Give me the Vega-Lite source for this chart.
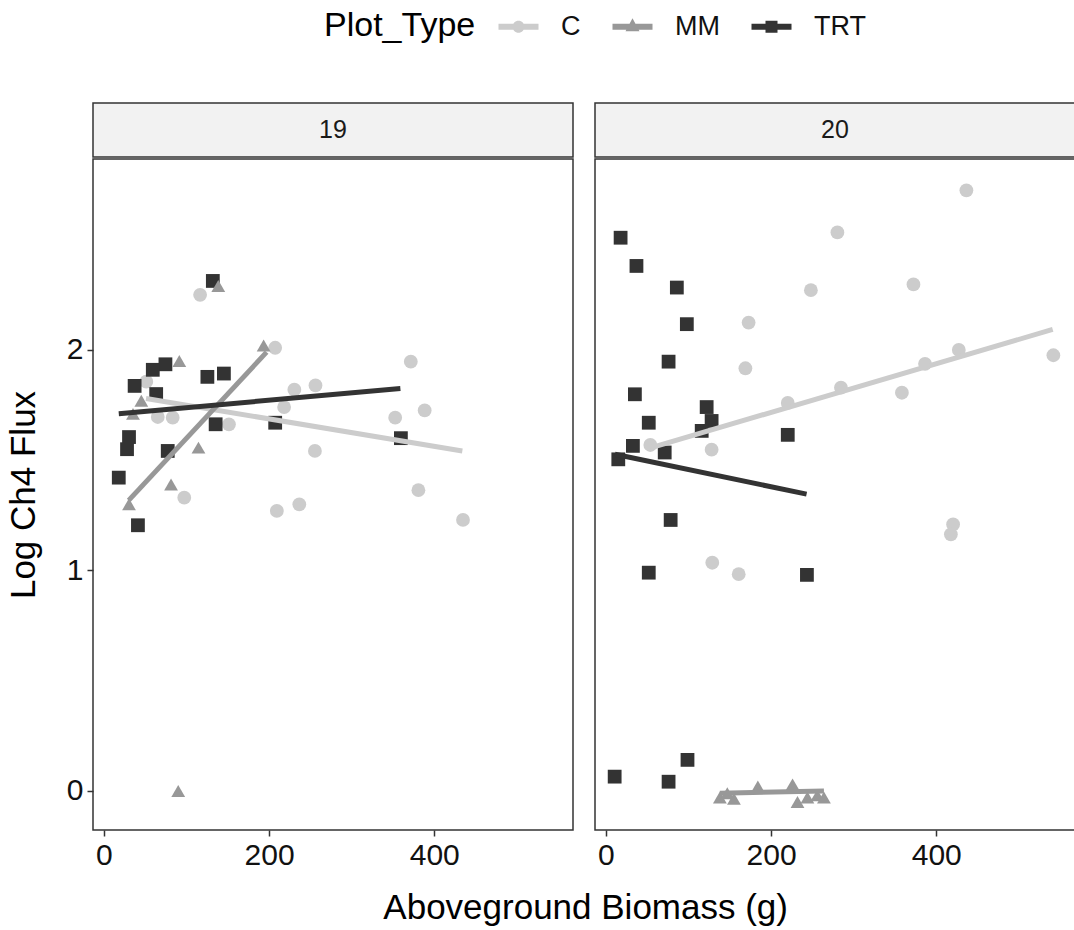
{
  "$schema": "https://vega.github.io/schema/vega-lite/v6.json",
  "padding": {"left": 5, "top": 13, "right": 0, "bottom": 0},
  "background": "white",
  "title": {"text": "Aboveground Biomass (g)", "orient": "bottom", "anchor": "middle", "fontSize": 35, "fontWeight": "normal", "color": "#000000", "offset": 20, "dx": 45},
  "datasets": {
    "points": [
      {"Year": "19", "Plot_Type": "C", "Biomass": 116.5, "Flux": 2.25},
      {"Year": "19", "Plot_Type": "C", "Biomass": 207.4, "Flux": 2.01},
      {"Year": "19", "Plot_Type": "C", "Biomass": 51.3, "Flux": 1.856},
      {"Year": "19", "Plot_Type": "C", "Biomass": 65.2, "Flux": 1.696},
      {"Year": "19", "Plot_Type": "C", "Biomass": 83.3, "Flux": 1.693},
      {"Year": "19", "Plot_Type": "C", "Biomass": 151.4, "Flux": 1.663},
      {"Year": "19", "Plot_Type": "C", "Biomass": 97.3, "Flux": 1.33},
      {"Year": "19", "Plot_Type": "C", "Biomass": 209.4, "Flux": 1.27},
      {"Year": "19", "Plot_Type": "C", "Biomass": 371.6, "Flux": 1.947},
      {"Year": "19", "Plot_Type": "C", "Biomass": 230.6, "Flux": 1.82},
      {"Year": "19", "Plot_Type": "C", "Biomass": 256.2, "Flux": 1.839},
      {"Year": "19", "Plot_Type": "C", "Biomass": 218.2, "Flux": 1.741},
      {"Year": "19", "Plot_Type": "C", "Biomass": 388.4, "Flux": 1.726},
      {"Year": "19", "Plot_Type": "C", "Biomass": 352.7, "Flux": 1.693},
      {"Year": "19", "Plot_Type": "C", "Biomass": 255.5, "Flux": 1.542},
      {"Year": "19", "Plot_Type": "C", "Biomass": 380.8, "Flux": 1.364},
      {"Year": "19", "Plot_Type": "C", "Biomass": 236.6, "Flux": 1.30},
      {"Year": "19", "Plot_Type": "C", "Biomass": 434.8, "Flux": 1.229},
      {"Year": "19", "Plot_Type": "TRT", "Biomass": 131.9, "Flux": 2.313},
      {"Year": "19", "Plot_Type": "TRT", "Biomass": 74.5, "Flux": 1.935},
      {"Year": "19", "Plot_Type": "TRT", "Biomass": 59.2, "Flux": 1.91},
      {"Year": "19", "Plot_Type": "TRT", "Biomass": 37.2, "Flux": 1.837},
      {"Year": "19", "Plot_Type": "TRT", "Biomass": 125.3, "Flux": 1.878},
      {"Year": "19", "Plot_Type": "TRT", "Biomass": 145.3, "Flux": 1.893},
      {"Year": "19", "Plot_Type": "TRT", "Biomass": 63.3, "Flux": 1.80},
      {"Year": "19", "Plot_Type": "TRT", "Biomass": 135.3, "Flux": 1.663},
      {"Year": "19", "Plot_Type": "TRT", "Biomass": 30.4, "Flux": 1.605},
      {"Year": "19", "Plot_Type": "TRT", "Biomass": 28.0, "Flux": 1.55},
      {"Year": "19", "Plot_Type": "TRT", "Biomass": 77.3, "Flux": 1.542},
      {"Year": "19", "Plot_Type": "TRT", "Biomass": 18.0, "Flux": 1.421},
      {"Year": "19", "Plot_Type": "TRT", "Biomass": 41.2, "Flux": 1.205},
      {"Year": "19", "Plot_Type": "TRT", "Biomass": 207.4, "Flux": 1.67},
      {"Year": "19", "Plot_Type": "TRT", "Biomass": 359.6, "Flux": 1.60},
      {"Year": "19", "Plot_Type": "MM", "Biomass": 138.5, "Flux": 2.29},
      {"Year": "19", "Plot_Type": "MM", "Biomass": 193.4, "Flux": 2.02},
      {"Year": "19", "Plot_Type": "MM", "Biomass": 91.3, "Flux": 1.95},
      {"Year": "19", "Plot_Type": "MM", "Biomass": 45.3, "Flux": 1.77},
      {"Year": "19", "Plot_Type": "MM", "Biomass": 35.2, "Flux": 1.71},
      {"Year": "19", "Plot_Type": "MM", "Biomass": 114.5, "Flux": 1.557},
      {"Year": "19", "Plot_Type": "MM", "Biomass": 81.3, "Flux": 1.39},
      {"Year": "19", "Plot_Type": "MM", "Biomass": 30.4, "Flux": 1.30},
      {"Year": "19", "Plot_Type": "MM", "Biomass": 90.0, "Flux": 0.0},
      {"Year": "20", "Plot_Type": "C", "Biomass": 248.2, "Flux": 2.271},
      {"Year": "20", "Plot_Type": "C", "Biomass": 172.8, "Flux": 2.124},
      {"Year": "20", "Plot_Type": "C", "Biomass": 168.9, "Flux": 1.917},
      {"Year": "20", "Plot_Type": "C", "Biomass": 220.2, "Flux": 1.76},
      {"Year": "20", "Plot_Type": "C", "Biomass": 53.8, "Flux": 1.569},
      {"Year": "20", "Plot_Type": "C", "Biomass": 128.0, "Flux": 1.548},
      {"Year": "20", "Plot_Type": "C", "Biomass": 128.8, "Flux": 1.035},
      {"Year": "20", "Plot_Type": "C", "Biomass": 160.8, "Flux": 0.983},
      {"Year": "20", "Plot_Type": "C", "Biomass": 436.5, "Flux": 2.724},
      {"Year": "20", "Plot_Type": "C", "Biomass": 280.3, "Flux": 2.533},
      {"Year": "20", "Plot_Type": "C", "Biomass": 372.4, "Flux": 2.297},
      {"Year": "20", "Plot_Type": "C", "Biomass": 284.6, "Flux": 1.829},
      {"Year": "20", "Plot_Type": "C", "Biomass": 386.4, "Flux": 1.937},
      {"Year": "20", "Plot_Type": "C", "Biomass": 427.3, "Flux": 2.0},
      {"Year": "20", "Plot_Type": "C", "Biomass": 541.8, "Flux": 1.976},
      {"Year": "20", "Plot_Type": "C", "Biomass": 358.4, "Flux": 1.806},
      {"Year": "20", "Plot_Type": "C", "Biomass": 420.4, "Flux": 1.209},
      {"Year": "20", "Plot_Type": "C", "Biomass": 417.7, "Flux": 1.164},
      {"Year": "20", "Plot_Type": "TRT", "Biomass": 17.8, "Flux": 2.509},
      {"Year": "20", "Plot_Type": "TRT", "Biomass": 37.0, "Flux": 2.381},
      {"Year": "20", "Plot_Type": "TRT", "Biomass": 85.9, "Flux": 2.283},
      {"Year": "20", "Plot_Type": "TRT", "Biomass": 98.0, "Flux": 2.117},
      {"Year": "20", "Plot_Type": "TRT", "Biomass": 75.9, "Flux": 1.947},
      {"Year": "20", "Plot_Type": "TRT", "Biomass": 35.1, "Flux": 1.799},
      {"Year": "20", "Plot_Type": "TRT", "Biomass": 122.0, "Flux": 1.741},
      {"Year": "20", "Plot_Type": "TRT", "Biomass": 51.9, "Flux": 1.67},
      {"Year": "20", "Plot_Type": "TRT", "Biomass": 128.0, "Flux": 1.678},
      {"Year": "20", "Plot_Type": "TRT", "Biomass": 116.0, "Flux": 1.633},
      {"Year": "20", "Plot_Type": "TRT", "Biomass": 220.2, "Flux": 1.615},
      {"Year": "20", "Plot_Type": "TRT", "Biomass": 32.7, "Flux": 1.565},
      {"Year": "20", "Plot_Type": "TRT", "Biomass": 71.2, "Flux": 1.535},
      {"Year": "20", "Plot_Type": "TRT", "Biomass": 15.0, "Flux": 1.504},
      {"Year": "20", "Plot_Type": "TRT", "Biomass": 78.4, "Flux": 1.229},
      {"Year": "20", "Plot_Type": "TRT", "Biomass": 51.9, "Flux": 0.99},
      {"Year": "20", "Plot_Type": "TRT", "Biomass": 243.4, "Flux": 0.98},
      {"Year": "20", "Plot_Type": "TRT", "Biomass": 10.6, "Flux": 0.065},
      {"Year": "20", "Plot_Type": "TRT", "Biomass": 75.9, "Flux": 0.042},
      {"Year": "20", "Plot_Type": "TRT", "Biomass": 98.8, "Flux": 0.141},
      {"Year": "20", "Plot_Type": "MM", "Biomass": 138.0, "Flux": -0.03},
      {"Year": "20", "Plot_Type": "MM", "Biomass": 147.0, "Flux": -0.01},
      {"Year": "20", "Plot_Type": "MM", "Biomass": 155.0, "Flux": -0.035},
      {"Year": "20", "Plot_Type": "MM", "Biomass": 184.0, "Flux": 0.02},
      {"Year": "20", "Plot_Type": "MM", "Biomass": 226.0, "Flux": 0.03},
      {"Year": "20", "Plot_Type": "MM", "Biomass": 232.0, "Flux": -0.05},
      {"Year": "20", "Plot_Type": "MM", "Biomass": 244.0, "Flux": -0.03},
      {"Year": "20", "Plot_Type": "MM", "Biomass": 256.0, "Flux": -0.02},
      {"Year": "20", "Plot_Type": "MM", "Biomass": 264.0, "Flux": -0.03}
    ],
    "lines": [
      {"Year": "19", "Plot_Type": "C", "Biomass": 51, "Flux": 1.78},
      {"Year": "19", "Plot_Type": "C", "Biomass": 434, "Flux": 1.542},
      {"Year": "19", "Plot_Type": "MM", "Biomass": 30, "Flux": 1.318},
      {"Year": "19", "Plot_Type": "MM", "Biomass": 197, "Flux": 1.99},
      {"Year": "19", "Plot_Type": "TRT", "Biomass": 18, "Flux": 1.711},
      {"Year": "19", "Plot_Type": "TRT", "Biomass": 359, "Flux": 1.825},
      {"Year": "20", "Plot_Type": "C", "Biomass": 54, "Flux": 1.556},
      {"Year": "20", "Plot_Type": "C", "Biomass": 541, "Flux": 2.093},
      {"Year": "20", "Plot_Type": "MM", "Biomass": 138, "Flux": -0.01},
      {"Year": "20", "Plot_Type": "MM", "Biomass": 264, "Flux": 0.0},
      {"Year": "20", "Plot_Type": "TRT", "Biomass": 11, "Flux": 1.527},
      {"Year": "20", "Plot_Type": "TRT", "Biomass": 243, "Flux": 1.346}
    ],
    "strips": [
      {"Year": "19"},
      {"Year": "20"}
    ]
  },
  "hconcat": [
    {
      "spacing": 0,
      "vconcat": [
        {
          "width": 480, "height": 54,
          "view": {"fill": "#f2f2f2", "stroke": "#333333", "strokeWidth": 1.5},
          "data": {"name": "strips"},
          "transform": [{"filter": "datum.Year === '19'"}],
          "mark": {"type": "text", "fontSize": 25, "color": "#1a1a1a", "baseline": "middle", "align": "center"},
          "encoding": {"text": {"field": "Year", "type": "nominal"}}
        },
        {
          "width": 480, "height": 671,
          "layer": [
            {
              "data": {"name": "points"},
              "transform": [{"filter": "datum.Year === '19'"}],
              "mark": {"type": "point", "filled": true, "size": 190, "opacity": 1, "strokeWidth": 0},
              "encoding": {
                "x": {"field": "Biomass", "type": "quantitative", "scale": {"domain": [-13.2, 568], "nice": false, "zero": false}, "axis": {"values": [0, 200, 400], "title": null}},
                "y": {"field": "Flux", "type": "quantitative", "scale": {"domain": [-0.177, 2.866], "nice": false, "zero": false}, "axis": {"values": [0, 1, 2], "format": "d", "title": "Log Ch4 Flux", "titlePadding": 25}},
                "color": {"field": "Plot_Type", "type": "nominal", "scale": {"domain": ["C", "MM", "TRT"], "range": ["#cccccc", "#989898", "#333333"]}, "title": "Plot_Type",
                  "legend": {"orient": "none", "legendX": 231, "legendY": -90, "direction": "horizontal",
                    "symbolType": {"expr": "datum.value === 'C' ? 'M-2,-0.3H2V0.3H-2Z M-0.6,0 A0.6,0.6 0 1,1 0.6,0 A0.6,0.6 0 1,1 -0.6,0 Z' : (datum.value === 'MM' ? 'M-2,-0.3H2V0.3H-2Z M0,-0.85 L0.7,0.45 L-0.7,0.45 Z' : 'M-2,-0.3H2V0.3H-2Z M-0.6,-0.6 H0.6 V0.6 H-0.6 Z')"}}},
                "shape": {"field": "Plot_Type", "type": "nominal", "scale": {"range": ["circle", "triangle-up", "square"]}, "legend": null}
              }
            },
            {
              "data": {"name": "lines"},
              "transform": [{"filter": "datum.Year === '19'"}],
              "mark": {"type": "line", "strokeWidth": 5},
              "encoding": {
                "x": {"field": "Biomass", "type": "quantitative"},
                "y": {"field": "Flux", "type": "quantitative"},
                "color": {"field": "Plot_Type", "type": "nominal", "title": "Plot_Type"}
              }
            }
          ]
        }
      ]
    },
    {
      "spacing": 0,
      "vconcat": [
        {
          "width": 480, "height": 54,
          "view": {"fill": "#f2f2f2", "stroke": "#333333", "strokeWidth": 1.5},
          "data": {"name": "strips"},
          "transform": [{"filter": "datum.Year === '20'"}],
          "mark": {"type": "text", "fontSize": 25, "color": "#1a1a1a", "baseline": "middle", "align": "center"},
          "encoding": {"text": {"field": "Year", "type": "nominal"}}
        },
        {
          "width": 480, "height": 671,
          "layer": [
            {
              "data": {"name": "points"},
              "transform": [{"filter": "datum.Year === '20'"}],
              "mark": {"type": "point", "filled": true, "size": 190, "opacity": 1, "strokeWidth": 0},
              "encoding": {
                "x": {"field": "Biomass", "type": "quantitative", "scale": {"domain": [-13.2, 568], "nice": false, "zero": false}, "axis": {"values": [0, 200, 400], "title": null}},
                "y": {"field": "Flux", "type": "quantitative", "scale": {"domain": [-0.177, 2.866], "nice": false, "zero": false}, "axis": null},
                "color": {"field": "Plot_Type", "type": "nominal", "scale": {"domain": ["C", "MM", "TRT"], "range": ["#cccccc", "#989898", "#333333"]}, "title": "Plot_Type"},
                "shape": {"field": "Plot_Type", "type": "nominal", "scale": {"range": ["circle", "triangle-up", "square"]}, "legend": null}
              }
            },
            {
              "data": {"name": "lines"},
              "transform": [{"filter": "datum.Year === '20'"}],
              "mark": {"type": "line", "strokeWidth": 5},
              "encoding": {
                "x": {"field": "Biomass", "type": "quantitative"},
                "y": {"field": "Flux", "type": "quantitative"},
                "color": {"field": "Plot_Type", "type": "nominal", "title": "Plot_Type"}
              }
            }
          ]
        }
      ]
    }
  ],
  "spacing": 20,
  "resolve": {"scale": {"color": "shared", "shape": "shared"}},
  "config": {
    "font": "Liberation Sans",
    "view": {"stroke": "#333333", "strokeWidth": 1.5},
    "axis": {"grid": false, "domain": false, "tickColor": "#333333", "tickWidth": 1.5, "tickSize": 6, "labelFontSize": 30, "labelColor": "#111111", "titleFontSize": 35, "titleFontWeight": "normal", "titleColor": "#000000", "labelPadding": 4},
    "legend": {
      "titleOrient": "left",
      "titleFontSize": 34,
      "titleFontWeight": "normal",
      "titleColor": "#000000",
      "titlePadding": 29,
      "labelFontSize": 27,
      "labelColor": "#111111",
      "labelOffset": 29,
      "columnPadding": 31,
      "symbolSize": 400,
      "symbolStrokeWidth": 0
    }
  }
}
